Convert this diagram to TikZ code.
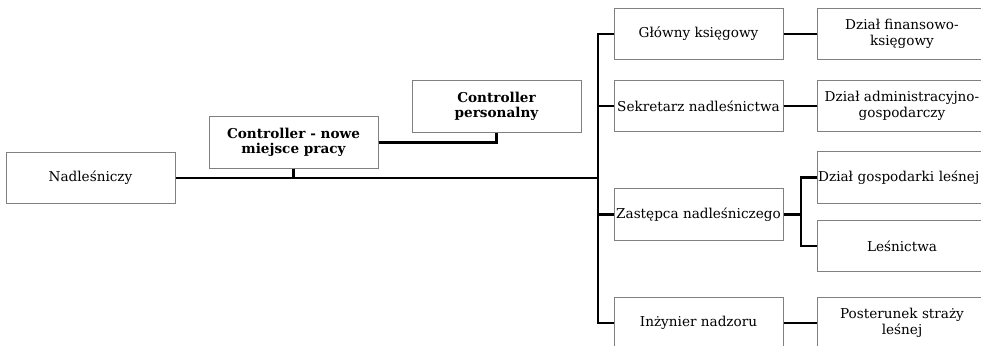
\documentclass[tikz,border=0pt]{standalone}
\usepackage{fontspec}
\setmainfont{DejaVu Serif}
\usepackage{tikz}

\begin{document}
\begin{tikzpicture}[x=0.75pt,y=-0.75pt]
	\tikzset{unit/.style={draw=black!50, line width=0.75pt, fill=white, align=center,
			minimum width=126.75pt, minimum height=38.5pt, inner sep=0.5pt, font=\fontsize{10.2}{11.7}\selectfont},
		boss/.style={unit, font=\fontsize{10.2}{11.7}\selectfont\bfseries},
		link/.style={line width=1.8pt, black}}
	\useasboundingbox (0,0) rectangle (981,346);
	\clip (0,0) rectangle (981,346);
	% left part
	\node [unit] (nadl) at (90.5,178) {Nadleśniczy};
	\node [boss] (ctrlnowe) at (293.5,142.5) {Controller - nowe\\miejsce pracy};
	\node [boss] (ctrlpers) at (496.5,106.5) {Controller\\personalny};
	% middle column
	\node [unit] (glowny) at (698.5,34) {Główny księgowy};
	\node [unit] (sekr) at (698.5,106) {Sekretarz nadleśnictwa};
	\node [unit] (zast) at (698.5,214.5) {Zastępca nadleśniczego};
	\node [unit] (inz) at (698.5,323) {Inżynier nadzoru};
	% right column
	\node [unit] (finans) at (902,34) {Dział finansowo-\\księgowy};
	\node [unit] (admin) at (902,106) {Dział administracyjno-\\gospodarczy};
	\node [unit, text width=125.75pt, align=left] (gosp) at (902,177.5) {\mbox{Dział gospodarki leśnej}};
	\node [unit] (lesn) at (902,246) {Leśnictwa};
	\node [unit] (poster) at (902,323) {Posterunek straży\\leśnej};
	% connectors
	\coordinate (bus) at (598,178);
	\draw [link] (nadl.east) -- (bus);
	\draw [link] (ctrlnowe.south) -- (ctrlnowe.south |- bus);
	\draw [link] (ctrlnowe.east) -| (ctrlpers.south);
	\draw [link] (glowny.west) -| (bus |- glowny.west) -- (bus |- inz.west) -- (inz.west);
	\draw [link] (bus |- sekr.west) -- (sekr.west);
	\draw [link] (bus |- zast.west) -- (zast.west);
	\draw [link] (glowny.east) -- (finans.west);
	\draw [link] (sekr.east) -- (admin.west);
	\draw [link] (inz.east) -- (poster.west);
	\coordinate (zfork) at (801,214.5);
	\draw [link] (zast.east) -- (zfork);
	\draw [link] (gosp.west) -| (zfork) |- (lesn.west);
\end{tikzpicture}
\end{document}
